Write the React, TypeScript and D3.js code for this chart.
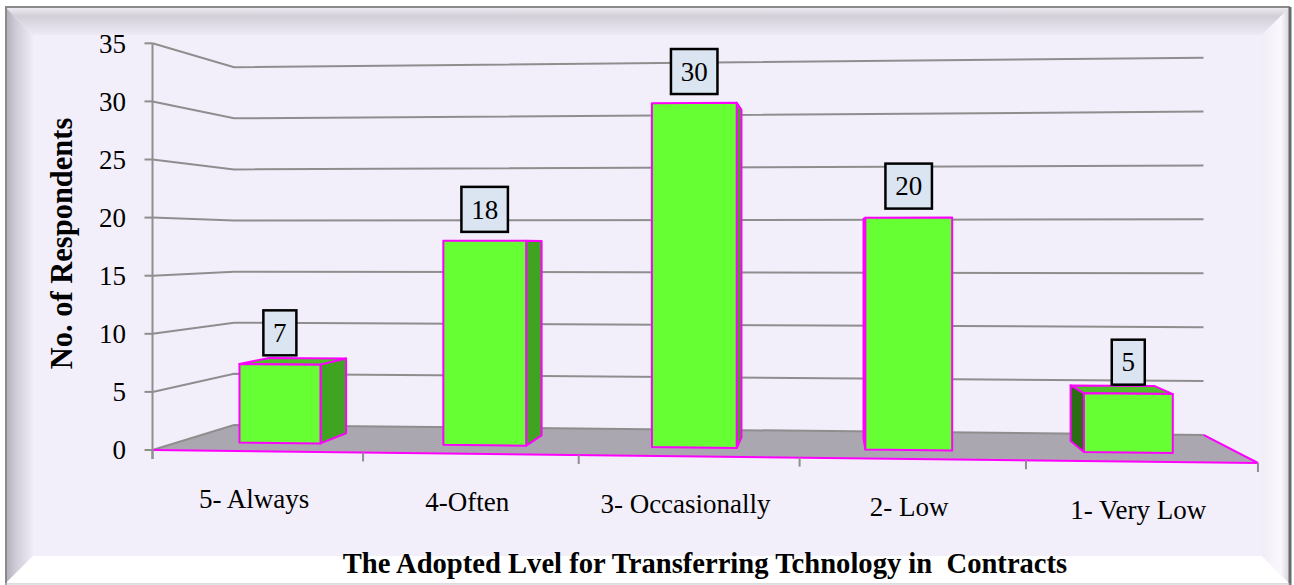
import React from 'react';
import * as d3 from 'd3';

// ---- data ----
const categories = ['5- Always', '4-Often', '3- Occasionally', '2- Low', '1- Very Low'];
const respondents = [7, 18, 30, 20, 5];
const yTicks = [0, 5, 10, 15, 20, 25, 30, 35];
const yMax = 35;
const seriesName = ['Respondents'];

const WIDTH = 1294;
const HEIGHT = 585;
const FONT = '"Liberation Serif", "Times New Roman", serif';

// Two-point perspective camera. World X runs along the category axis (0..5),
// Z runs into the floor (0 = front edge, 1 = back wall), Y is the height in
// front-plane pixels. Vertical edges stay vertical.
const camera = {
  originX: 152.5,
  spanX: 206.3,
  depthX: 113.6,
  wX: -0.01176,
  wZ: 0.137,
  horizon: 241.9,
  floorDrop: 208.1,
};

type P3 = [number, number, number];
type P2 = [number, number];

function project([x, y, z]: P3): P2 {
  const w = 1 + camera.wX * x + camera.wZ * z;
  return [
    (camera.originX + camera.spanX * x + camera.depthX * z) / w,
    camera.horizon + (camera.floorDrop - y) / w,
  ];
}

const poly = (pts: P3[]) => pts.map(project).map((p) => p.join(',')).join(' ');
const seg = (pts: P3[]) => 'M' + pts.map(project).map((p) => p.join(',')).join('L');

// signed area in screen space (y down); negative means the face points at the viewer
function shoelace(pts: P2[]) {
  let s = 0;
  for (let i = 0; i < pts.length; i++) {
    const a = pts[i];
    const b = pts[(i + 1) % pts.length];
    s += a[0] * b[1] - b[0] * a[1];
  }
  return s;
}

const xScale = d3
  .scaleBand<string>()
  .domain(categories)
  .range([0, categories.length])
  .paddingInner(0.6)
  .paddingOuter(0.3);

const zScale = d3
  .scaleBand<string>()
  .domain(seriesName)
  .range([0, 1])
  .paddingInner(0.6)
  .paddingOuter(0.3);

const yScale = d3.scaleLinear().domain([0, yMax]).range([0, 406.7]);

const X_END = categories.length;

const COLORS = {
  front: '#66FF33',
  top: '#4FBF2A',
  right: '#41A322',
  left: '#2C6C15',
  edge: '#FF00FF',
  floor: '#ABA7B1',
  grid: '#8E8E8E',
  bg: '#F3EFFA',
};

export default function App() {
  const z0 = zScale(seriesName[0]) as number;
  const z1 = z0 + zScale.bandwidth();
  const bw = xScale.bandwidth();

  const bars = categories.map((c, i) => {
    const x0 = xScale(c) as number;
    const x1 = x0 + bw;
    const h = yScale(respondents[i]);
    const faces: { key: string; pts: P3[]; fill: string }[] = [
      { key: 'top', pts: [[x0, h, z0], [x1, h, z0], [x1, h, z1], [x0, h, z1]], fill: COLORS.top },
      { key: 'right', pts: [[x1, 0, z0], [x1, 0, z1], [x1, h, z1], [x1, h, z0]], fill: COLORS.right },
      { key: 'left', pts: [[x0, 0, z1], [x0, 0, z0], [x0, h, z0], [x0, h, z1]], fill: COLORS.left },
      { key: 'front', pts: [[x0, 0, z0], [x1, 0, z0], [x1, h, z0], [x0, h, z0]], fill: COLORS.front },
    ];
    const visible = faces.filter((f) => shoelace(f.pts.map(project)) < 0);
    const anchor = project([x0 + bw / 2, h, z0]);
    return { c, i, visible, anchor, value: respondents[i] };
  });

  const boundaries = d3.range(categories.length + 1).map((k) => k * xScale.step());

  return (
    <svg
      width={WIDTH}
      height={HEIGHT}
      style={{ position: 'absolute', left: 0, top: 0, display: 'block' }}
      fontFamily={FONT}
    >
      <defs>
        <linearGradient id="bevTop" x1="0" y1="0" x2="0" y2="1">
          <stop offset="0" stopColor="#ECE9F0" />
          <stop offset="0.3" stopColor="#D3CFD9" />
          <stop offset="1" stopColor="#EEEAF5" />
        </linearGradient>
        <linearGradient id="bevLeft" x1="0" y1="0" x2="1" y2="0">
          <stop offset="0" stopColor="#B3AFBA" />
          <stop offset="0.35" stopColor="#CFCBD6" />
          <stop offset="1" stopColor="#F0ECF7" />
        </linearGradient>
        <linearGradient id="bevRight" x1="0" y1="0" x2="1" y2="0">
          <stop offset="0" stopColor="#F1EDF8" />
          <stop offset="0.7" stopColor="#FAF8FD" />
          <stop offset="1" stopColor="#D8D4DE" />
        </linearGradient>
      </defs>

      {/* picture frame */}
      <rect x={0} y={0} width={WIDTH} height={HEIGHT} fill="#FFFFFF" />
      <rect x={6} y={8} width={1283} height={576} fill={COLORS.bg} />
      <polygon points="6,8 1289,8 1262,35 33,35" fill="url(#bevTop)" />
      <polygon points="6,8 33,35 33,556 6,583" fill="url(#bevLeft)" />
      <polygon points="6,583 33,556 1262,556 1289,583" fill="#FFFFFF" />
      <polygon points="1289,8 1262,35 1262,556 1289,583" fill="url(#bevRight)" />
      <line x1={5} y1={7} x2={1290} y2={7} stroke="#8A8A8A" strokeWidth={2} />
      <line x1={6} y1={7} x2={6} y2={585} stroke="#8A8A8A" strokeWidth={2} />
      <line x1={1290} y1={7} x2={1290} y2={585} stroke="#6A6A6A" strokeWidth={3} />
      <line x1={5} y1={584} x2={1290} y2={584} stroke="#C8C8C8" strokeWidth={1} />

      {/* floor */}
      <polygon
        points={poly([[0, 0, 0], [X_END, 0, 0], [X_END, 0, 1], [0, 0, 1]])}
        fill={COLORS.floor}
      />

      {/* wall gridlines */}
      {yTicks.map((t) => (
        <path
          key={`g${t}`}
          d={seg([[0, yScale(t), 0], [0, yScale(t), 1], [X_END, yScale(t), 1]])}
          fill="none"
          stroke={COLORS.grid}
          strokeWidth={2}
        />
      ))}

      {/* floor front and right edges */}
      <path
        d={seg([[0, 0, 0], [X_END, 0, 0], [X_END, 0, 1]])}
        fill="none"
        stroke={COLORS.edge}
        strokeWidth={2}
      />

      {/* value axis */}
      {(() => {
        const top = project([0, yScale(yMax), 0]);
        const bot = project([0, 0, 0]);
        return (
          <line x1={top[0]} y1={top[1]} x2={bot[0]} y2={bot[1] + 9} stroke={COLORS.grid} strokeWidth={2} />
        );
      })()}
      {yTicks.map((t) => {
        const [px, py] = project([0, yScale(t), 0]);
        return (
          <g key={`yt${t}`}>
            <line x1={px - 8} y1={py} x2={px} y2={py} stroke={COLORS.grid} strokeWidth={2} />
            <text x={126} y={py + 9.2} fontSize={27} textAnchor="end" fill="#000">
              {t}
            </text>
          </g>
        );
      })}

      {/* category ticks */}
      {boundaries.map((b, k) => {
        const [px, py] = project([b, 0, 0]);
        return <line key={`xt${k}`} x1={px} y1={py} x2={px} y2={py + 9} stroke={COLORS.grid} strokeWidth={2} />;
      })}

      {/* category labels */}
      {categories.map((c) => {
        const [px, py] = project([(xScale(c) as number) + bw / 2, 0, 0]);
        return (
          <text key={`cl${c}`} x={px - 3} y={py + 57} fontSize={27} textAnchor="middle" fill="#000">
            {c}
          </text>
        );
      })}

      {/* bars */}
      {bars.map((b) => (
        <g key={`bar${b.i}`}>
          {b.visible.map((f) => (
            <polygon
              key={f.key}
              points={poly(f.pts)}
              fill={f.fill}
              stroke={COLORS.edge}
              strokeWidth={2}
              strokeLinejoin="round"
            />
          ))}
        </g>
      ))}

      {/* value labels */}
      {bars.map((b) => {
        const txt = String(b.value);
        const w = txt.length * 13.5 + 19.5;
        const h = 45;
        const bottom = b.anchor[1] - 9;
        return (
          <g key={`vl${b.i}`}>
            <rect
              x={b.anchor[0] - w / 2}
              y={bottom - h}
              width={w}
              height={h}
              fill="#DBE5F1"
              stroke="#000"
              strokeWidth={2.5}
            />
            <text x={b.anchor[0]} y={bottom - h / 2 + 9.2} fontSize={27} textAnchor="middle" fill="#000">
              {txt}
            </text>
          </g>
        );
      })}

      {/* axis titles */}
      <text
        transform="translate(72,243.5) rotate(-90)"
        fontSize={30.5}
        fontWeight="bold"
        textAnchor="middle"
        fill="#000"
      >
        No. of Respondents
      </text>
      <text
        x={705}
        y={573}
        fontSize={28.6}
        fontWeight="bold"
        textAnchor="middle"
        fill="#000"
        style={{ whiteSpace: 'pre' }}
      >
        The Adopted Lvel for Transferring Tchnology in  Contracts
      </text>
    </svg>
  );
}
